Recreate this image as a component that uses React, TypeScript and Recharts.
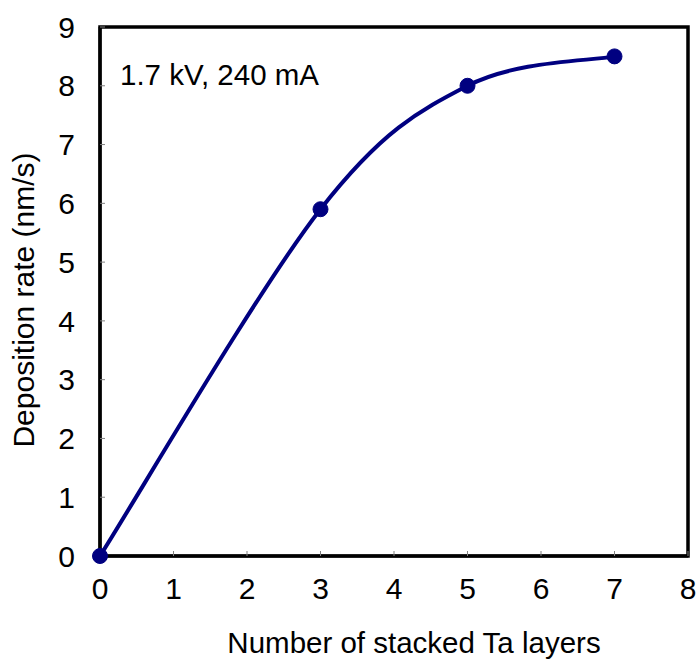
import React from "react";
import { LineChart, Line, XAxis, YAxis, ReferenceArea, ReferenceDot } from "recharts";

const layers = [0, 3, 5, 7];
const rates = [0, 5.9, 8.0, 8.5];
const xTicks = [0, 1, 2, 3, 4, 5, 6, 7, 8];
const yTicks = [0, 1, 2, 3, 4, 5, 6, 7, 8, 9];
const xTitle = "Number of stacked Ta layers";
const yTitle = "Deposition rate (nm/s)";
const note = "1.7 kV, 240 mA";

const data = layers.map((x, i) => ({ x, y: rates[i] }));

const FONT = "'Liberation Sans', Arial, sans-serif";
const NAVY = "#000080";

// Catmull-Rom style smoothing (similar to spreadsheet "smoothed line")
function smoothCurve(context: any) {
  let pts: [number, number][] = [];
  return {
    areaStart() {},
    areaEnd() {},
    lineStart() {
      pts = [];
    },
    point(x: number, y: number) {
      pts.push([+x, +y]);
    },
    lineEnd() {
      const n = pts.length;
      if (!n) return;
      context.moveTo(pts[0][0], pts[0][1]);
      for (let i = 0; i < n - 1; i++) {
        const p0 = pts[i - 1] || pts[i];
        const p1 = pts[i];
        const p2 = pts[i + 1];
        const p3 = pts[i + 2] || pts[i + 1];
        const c1x = p1[0] + (p2[0] - p0[0]) / 6;
        const c1y = p1[1] + (p2[1] - p0[1]) / 6;
        const c2x = p2[0] - (p3[0] - p1[0]) / 6;
        const c2y = p2[1] - (p3[1] - p1[1]) / 6;
        context.bezierCurveTo(c1x, c1y, c2x, c2y, p2[0], p2[1]);
      }
    },
  };
}

export default function App() {
  return (
    <div
      style={{
        position: "fixed",
        left: 0,
        top: 0,
        width: 698,
        height: 660,
        background: "#fff",
      }}
    >
      <LineChart
        width={698}
        height={660}
        data={data}
        margin={{ top: 27, right: 10, bottom: 0, left: 0 }}
        style={{ fontFamily: FONT, overflow: "visible" }}
      >
        <XAxis
          dataKey="x"
          type="number"
          domain={[0, 8]}
          ticks={xTicks}
          height={104}
          tickSize={-5}
          tickMargin={27}
          axisLine={{ stroke: "#000", strokeWidth: 3 }}
          tickLine={{ stroke: "#808080", strokeWidth: 1 }}
          tick={{ fill: "#000", fontSize: 30, fontFamily: FONT }}
          interval={0}
          label={() => (
            <text x={414} y={653} textAnchor="middle" fontSize={29.5} fontFamily={FONT} fill="#000">
              {xTitle}
            </text>
          )}
        />
        <YAxis
          dataKey="y"
          type="number"
          domain={[0, 9]}
          ticks={yTicks}
          width={100}
          tickSize={-5}
          tickMargin={30}
          axisLine={{ stroke: "#000", strokeWidth: 3 }}
          tickLine={{ stroke: "#808080", strokeWidth: 1 }}
          tick={{ fill: "#000", fontSize: 30, fontFamily: FONT }}
          interval={0}
          label={() => (
            <text
              x={34}
              y={300}
              textAnchor="middle"
              fontSize={30}
              fontFamily={FONT}
              fill="#000"
              transform="rotate(-90 34 300)"
            >
              {yTitle}
            </text>
          )}
        />
        <ReferenceArea x1={0} x2={8} y1={0} y2={9} fill="none" stroke="#000" strokeWidth={3.5} />
        <ReferenceDot
          x={0}
          y={9}
          r={0}
          fill="none"
          stroke="none"
          label={() => (
            <text x={120} y={85} fontSize={29.5} fontFamily={FONT} fill="#000">
              {note}
            </text>
          )}
        />
        <Line
          dataKey="y"
          type={smoothCurve as any}
          stroke={NAVY}
          strokeWidth={4}
          dot={{ r: 7.5, fill: NAVY, stroke: NAVY, strokeWidth: 1 }}
          isAnimationActive={false}
        />
      </LineChart>
    </div>
  );
}
